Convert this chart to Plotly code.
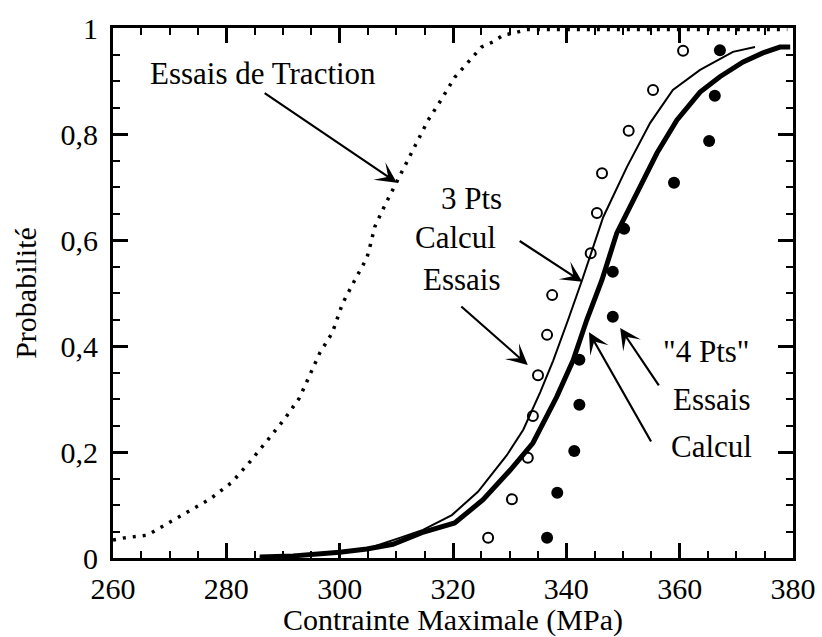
import plotly.graph_objects as go

# ---------------- data ----------------
traction_x = [260, 262, 266, 269.7, 273.2, 277.1, 281, 284.2, 287.4, 290.4, 292.9, 294.8,
              296.5, 298.7, 300.5, 302.7, 304.8, 305.4, 306.2, 308, 310, 311.8, 313.6,
              315.6, 318, 320.3, 321.8, 323.5, 325, 327.1, 328.9, 330.6, 333, 340, 350,
              360, 370, 379]
traction_y = [0.034, 0.038, 0.043, 0.066, 0.087, 0.111, 0.143, 0.182, 0.224, 0.264, 0.302,
              0.345, 0.387, 0.425, 0.48, 0.525, 0.566, 0.59, 0.625, 0.666, 0.708, 0.747,
              0.785, 0.826, 0.866, 0.907, 0.925, 0.947, 0.964, 0.974, 0.987, 0.99, 0.997,
              0.997, 0.997, 0.997, 0.997, 0.997]

calc3_x = [285.9, 292, 300, 305, 310.6, 314.7, 319.8, 324.4, 329.5, 332.4, 335.4, 337.7,
           340.3, 342.8, 346.5, 350.7, 354.8, 358.8, 363.6, 369.4, 373.3]
calc3_y = [0.002, 0.004, 0.011, 0.018, 0.038, 0.053, 0.081, 0.125, 0.194, 0.242, 0.313,
           0.373, 0.449, 0.525, 0.643, 0.738, 0.821, 0.883, 0.921, 0.955, 0.964]

calc4_x = [285.9, 291.8, 300, 304.8, 309.4, 314.5, 320.3, 325.3, 330.1, 334.1, 338.3, 341.2,
           343.6, 346.3, 348.9, 351.8, 356, 359.5, 363.6, 367.1, 371.2, 374.7, 377.7, 379.5]
calc4_y = [0.002, 0.004, 0.011, 0.017, 0.026, 0.048, 0.066, 0.11, 0.166, 0.217, 0.304, 0.373,
           0.449, 0.525, 0.613, 0.675, 0.764, 0.826, 0.879, 0.908, 0.936, 0.953, 0.964, 0.964]

essais3_x = [326.2, 330.4, 333.2, 334.1, 335.0, 336.6, 337.5, 344.3, 345.4, 346.3, 351.0,
             355.3, 360.6]
essais3_y = [0.038, 0.111, 0.189, 0.268, 0.345, 0.421, 0.496, 0.575, 0.651, 0.726, 0.806,
             0.883, 0.957]

essais4_x = [336.6, 338.4, 341.4, 342.3, 342.3, 348.2, 348.2, 350.2, 359.0, 365.2, 366.2, 367.1]
essais4_y = [0.038, 0.123, 0.202, 0.289, 0.374, 0.455, 0.540, 0.621, 0.708, 0.787, 0.872, 0.958]

x_tickvals = [260, 280, 300, 320, 340, 360, 380]
x_ticktext = ["260", "280", "300", "320", "340", "360", "380"]
y_tickvals = [0, 0.2, 0.4, 0.6, 0.8, 1]
y_ticktext = ["0", "0,2", "0,4", "0,6", "0,8", "1"]

# labels: (text, x, y)
labels = [
    ("Essais de Traction", 286.5, 0.915),
    ("3 Pts", 323.3, 0.679),
    ("Calcul", 320.5, 0.604),
    ("Essais", 321.6, 0.525),
    ("\"4 Pts\"", 364.6, 0.389),
    ("Essais", 365.7, 0.300),
    ("Calcul", 365.7, 0.211),
]
# arrows: (tail_x, tail_y, head_x, head_y)
arrows = [
    (286.5, 0.879, 310.1, 0.708),
    (331.5, 0.600, 342.8, 0.521),
    (321.2, 0.477, 333.2, 0.364),
    (356.5, 0.323, 349.5, 0.434),
    (355.1, 0.217, 344.0, 0.426),
]

FONT = "Liberation Serif"

fig = go.Figure()
fig.add_trace(go.Scatter(x=traction_x, y=traction_y, mode="lines",
                         line=dict(color="black", width=3.5, dash="3px,7px"),
                         name="Essais de Traction", showlegend=False))
fig.add_trace(go.Scatter(x=calc3_x, y=calc3_y, mode="lines",
                         line=dict(color="black", width=2),
                         name="3 Pts Calcul", showlegend=False))
fig.add_trace(go.Scatter(x=calc4_x, y=calc4_y, mode="lines",
                         line=dict(color="black", width=5),
                         name="4 Pts Calcul", showlegend=False))
fig.add_trace(go.Scatter(x=essais3_x, y=essais3_y, mode="markers",
                         marker=dict(symbol="circle-open", size=10, color="black",
                                     line=dict(width=2, color="black")),
                         name="3 Pts Essais", showlegend=False))
fig.add_trace(go.Scatter(x=essais4_x, y=essais4_y, mode="markers",
                         marker=dict(symbol="circle", size=12, color="black"),
                         name="4 Pts Essais", showlegend=False))

annots = []
for t, x, y in labels:
    annots.append(dict(text=t, x=x, y=y, xref="x", yref="y", showarrow=False,
                       font=dict(family=FONT, size=31, color="black"),
                       xanchor="center", yanchor="middle"))
for tx, ty, hx, hy in arrows:
    annots.append(dict(text="", x=hx, y=hy, ax=tx, ay=ty, xref="x", yref="y",
                       axref="x", ayref="y", showarrow=True, arrowhead=3,
                       arrowsize=1.6, arrowwidth=2.2, arrowcolor="black", standoff=0))

axis_common = dict(showline=True, linewidth=3, linecolor="black", mirror="allticks",
                   ticks="inside", ticklen=15, tickwidth=3, tickcolor="black",
                   showgrid=False, zeroline=False, automargin=False,
                   tickfont=dict(family=FONT, size=30, color="black"))

fig.update_layout(
    width=822, height=637,
    margin=dict(l=113, r=29, t=28, b=79),
    paper_bgcolor="white", plot_bgcolor="white",
    font=dict(family=FONT, color="black"),
    annotations=annots,
    xaxis=dict(range=[260, 380], tickvals=x_tickvals, ticktext=x_ticktext,
               ticklabelstandoff=2,
               minor=dict(dtick=5, tick0=260, ticks="inside", ticklen=7, tickwidth=2,
                          tickcolor="black", showgrid=False),
               title=dict(text="Contrainte Maximale (MPa)",
                          font=dict(family=FONT, size=30, color="black"), standoff=2),
               **axis_common),
    yaxis=dict(range=[0, 1], tickvals=y_tickvals, ticktext=y_ticktext,
               ticklabelstandoff=6,
               minor=dict(dtick=0.05, tick0=0, ticks="inside", ticklen=7, tickwidth=2,
                          tickcolor="black", showgrid=False),
               title=dict(text="Probabilité",
                          font=dict(family=FONT, size=30, color="black"), standoff=16),
               **axis_common),
)

fig.write_html("out.html", config={"displayModeBar": False},
               post_script="document.body.style.margin='0px';document.body.style.padding='0px';")
